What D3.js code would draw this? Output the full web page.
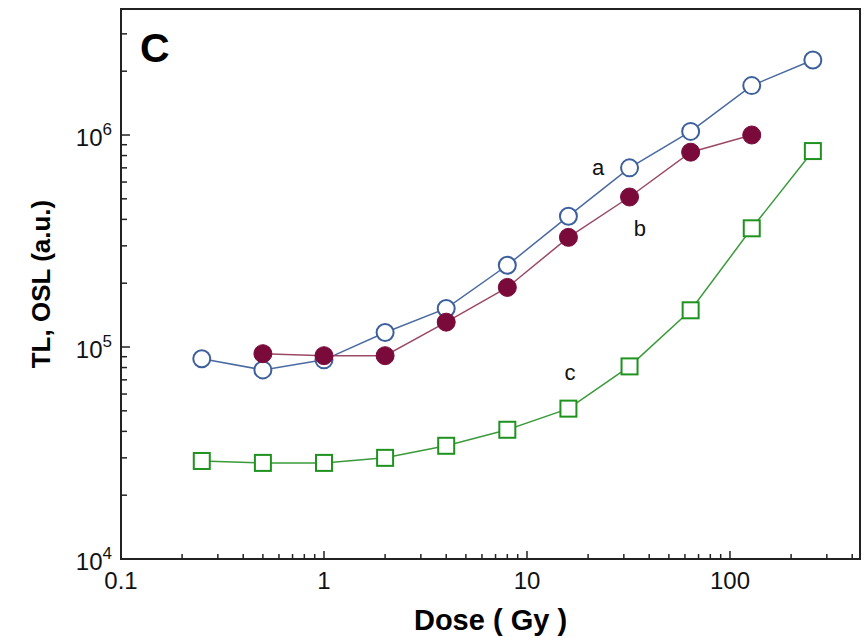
<!DOCTYPE html>
<html>
<head>
<meta charset="utf-8">
<script src="https://cdn.jsdelivr.net/npm/d3@7"></script>
<style>
  body { margin: 0; background: #fff; }
  svg { display: block; font-family: 'Liberation Sans', Arial, sans-serif; }
</style>
</head>
<body>
<svg id="chart" width="866" height="638"></svg>
<script>
// Dose (Gy)
const dosesA = [0.25, 0.5, 1, 2, 4, 8, 16, 32, 64, 128, 256];
const dosesB = [0.5, 1, 2, 4, 8, 16, 32, 64, 128];
const dosesC = [0.25, 0.5, 1, 2, 4, 8, 16, 32, 64, 128, 256];

// TL, OSL (a.u.)
const seriesA = [8.8e4, 7.8e4, 8.7e4, 1.17e5, 1.52e5, 2.43e5, 4.14e5, 7.0e5, 1.04e6, 1.71e6, 2.26e6];
const seriesB = [9.3e4, 9.1e4, 9.1e4, 1.31e5, 1.91e5, 3.29e5, 5.1e5, 8.3e5, 1.0e6];
const seriesC = [2.9e4, 2.84e4, 2.84e4, 3.0e4, 3.42e4, 4.07e4, 5.12e4, 8.1e4, 1.49e5, 3.63e5, 8.4e5];

const xTicks = [0.1, 1, 10, 100];
const yTicks = [1e4, 1e5, 1e6];

const svg = d3.select('#chart');
const margin = { left: 121, right: 6, top: 9, bottom: 79 };
const width = 866 - margin.left - margin.right;
const height = 638 - margin.top - margin.bottom;

const x = d3.scaleLog().domain([0.1, 437]).range([0, width]);
const y = d3.scaleLog().domain([1e4, 3.93e6]).range([height, 0]);

const g = svg.append('g').attr('transform', `translate(${margin.left},${margin.top})`);

// frame
g.append('rect')
  .attr('width', width).attr('height', height)
  .attr('fill', 'none').attr('stroke', '#222').attr('stroke-width', 2);

// minor + major ticks (inward)
const xMinor = [];
for (let e = -1; e <= 2; e++) for (let m = 1; m <= 9; m++) {
  const v = m * Math.pow(10, e);
  if (v >= 0.1 && v <= 437) xMinor.push(v);
}
g.append('g').selectAll('line').data(xMinor).join('line')
  .attr('x1', d => x(d)).attr('x2', d => x(d))
  .attr('y1', height).attr('y2', d => height - (xTicks.includes(d) ? 8 : 5))
  .attr('stroke', '#222').attr('stroke-width', 1.5);

const yMinor = [];
for (let e = 4; e <= 6; e++) for (let m = 1; m <= 9; m++) {
  const v = m * Math.pow(10, e);
  if (v <= 3.93e6) yMinor.push(v);
}
g.append('g').selectAll('line').data(yMinor).join('line')
  .attr('y1', d => y(d)).attr('y2', d => y(d))
  .attr('x1', 0).attr('x2', d => (yTicks.includes(d) ? 9 : 6))
  .attr('stroke', '#222').attr('stroke-width', 1.5);

// tick labels
g.append('g').selectAll('text').data(xTicks).join('text')
  .attr('x', d => x(d)).attr('y', height + 30)
  .attr('text-anchor', 'middle')
  .attr('font-size', 24).attr('fill', '#111')
  .text(d => d3.format('~g')(d));

const yl = g.append('g').selectAll('text').data(yTicks).join('text')
  .attr('x', -9).attr('y', d => y(d) + 11)
  .attr('text-anchor', 'end')
  .attr('font-size', 24).attr('fill', '#111');
yl.append('tspan').text('10');
yl.append('tspan').attr('dy', -11).attr('font-size', 17).text(d => Math.round(Math.log10(d)));

// axis titles
svg.append('text')
  .attr('x', margin.left + width / 2).attr('y', 630)
  .attr('text-anchor', 'middle').attr('font-size', 29).attr('font-weight', 'bold')
  .text('Dose ( Gy )');
svg.append('text')
  .attr('transform', `translate(50,${margin.top + height / 2}) rotate(-90)`)
  .attr('text-anchor', 'middle').attr('font-size', 26).attr('font-weight', 'bold')
  .text('TL, OSL (a.u.)');

// panel letter
svg.append('text')
  .attr('x', 140).attr('y', 62)
  .attr('font-size', 41).attr('font-weight', 'bold')
  .text('C');

const line = d3.line().x(d => x(d[0])).y(d => y(d[1]));

function drawSeries(doses, vals, lineColor, draw) {
  const pts = doses.map((d, i) => [d, vals[i]]);
  g.append('path').datum(pts).attr('d', line)
    .attr('fill', 'none').attr('stroke', lineColor).attr('stroke-width', 1.5);
  draw(g.append('g').selectAll('.m').data(pts).join('g')
    .attr('transform', d => `translate(${x(d[0])},${y(d[1])})`));
}

drawSeries(dosesA, seriesA, '#4a6aa0', s => s.append('circle').attr('r', 8.5)
  .attr('fill', '#fff').attr('stroke', '#3d5f9c').attr('stroke-width', 2));
drawSeries(dosesB, seriesB, '#9a4a66', s => s.append('circle').attr('r', 9)
  .attr('fill', '#7a0a3a').attr('stroke', '#7a0a3a').attr('stroke-width', 1));
drawSeries(dosesC, seriesC, '#3a9a3a', s => s.append('rect')
  .attr('x', -8).attr('y', -8).attr('width', 16).attr('height', 16)
  .attr('fill', '#fff').attr('stroke', '#1f921f').attr('stroke-width', 2));

// curve labels
const curveLabels = [['a', 22.4, 6.5e5], ['b', 36, 3.34e5], ['c', 16.3, 7.0e4]];
g.append('g').selectAll('text').data(curveLabels).join('text')
  .attr('x', d => x(d[1])).attr('y', d => y(d[2]))
  .attr('text-anchor', 'middle').attr('font-size', 22).attr('fill', '#111')
  .text(d => d[0]);
</script>
</body>
</html>
